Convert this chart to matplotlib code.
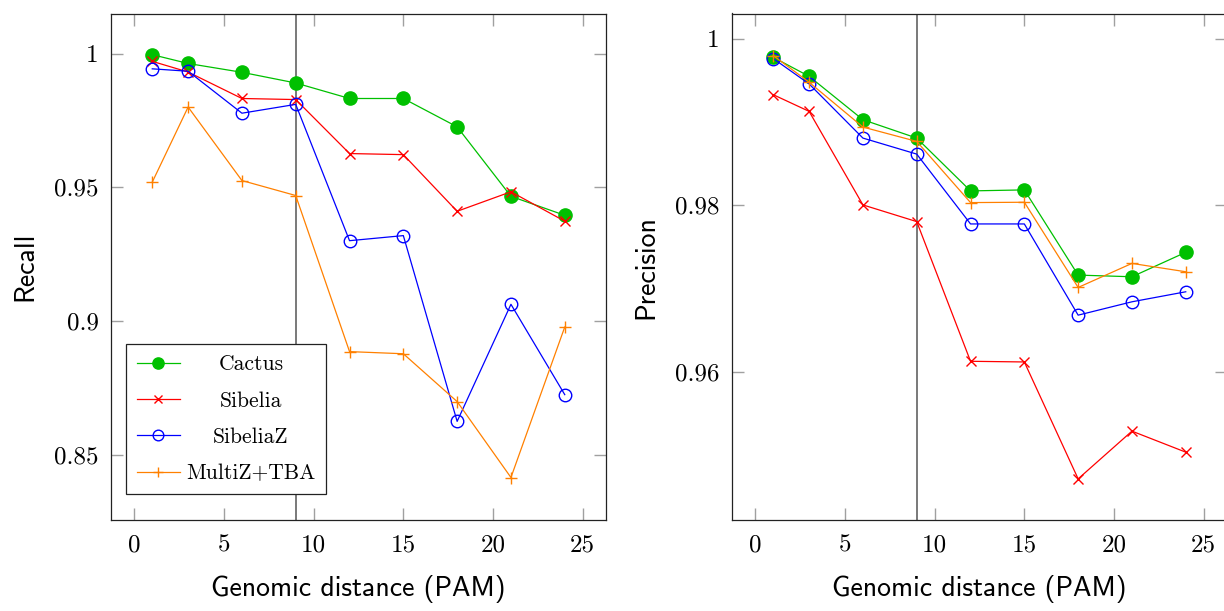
import matplotlib
matplotlib.use("Agg")
import matplotlib.pyplot as plt

# ---- data ----
pam = [1, 3, 6, 9, 12, 15, 18, 21, 24]
methods = ["Cactus", "Sibelia", "SibeliaZ", "MultiZ+TBA"]

recall_cactus = [0.9996, 0.9963, 0.9930, 0.9890, 0.9832, 0.9832, 0.9726, 0.9466, 0.9395]
recall_sibelia = [0.9971, 0.9931, 0.9832, 0.9828, 0.9626, 0.9622, 0.9410, 0.9483, 0.9373]
recall_sibeliaz = [0.9943, 0.9934, 0.9777, 0.9810, 0.9300, 0.9319, 0.8624, 0.9062, 0.8724]
recall_multiz = [0.9519, 0.9800, 0.9525, 0.9469, 0.8885, 0.8877, 0.8698, 0.8414, 0.8977]

precision_cactus = [0.99775, 0.99547, 0.99027, 0.98807, 0.98174, 0.98186, 0.97165, 0.97145, 0.97438]
precision_sibelia = [0.99327, 0.99127, 0.98006, 0.97806, 0.96132, 0.96124, 0.94723, 0.95295, 0.95043]
precision_sibeliaz = [0.99760, 0.99456, 0.98807, 0.98615, 0.97778, 0.97778, 0.96685, 0.96845, 0.96965]
precision_multiz = [0.99796, 0.99476, 0.98939, 0.98767, 0.98034, 0.98038, 0.97017, 0.97305, 0.97205]

threshold_pam = 9

x_ticks = [0, 5, 10, 15, 20, 25]
x_tick_labels = ["0", "5", "10", "15", "20", "25"]
recall_ticks = [0.85, 0.9, 0.95, 1.0]
recall_tick_labels = ["0.85", "0.9", "0.95", "1"]
precision_ticks = [0.96, 0.98, 1.0]
precision_tick_labels = ["0.96", "0.98", "1"]

x_label = "Genomic distance (PAM)"
recall_label = "Recall"
precision_label = "Precision"

# ---- styles ----
styles = [
    dict(color="#00c000", marker="o", markersize=9.5, markerfacecolor="#00c000", markeredgecolor="#00c000"),
    dict(color="#ff0000", marker="x", markersize=6.5, markeredgewidth=1.0),
    dict(color="#0000ff", marker="o", markersize=9, markerfacecolor="none", markeredgewidth=1.0),
    dict(color="#ff8000", marker="+", markersize=9, markeredgewidth=1.0),
]

serif = "cmr10"
sans = "cmss10"
legend_fs = 15.5

W, H = 1224, 611
fig = plt.figure(figsize=(W / 100, H / 100), dpi=100)
ax1 = fig.add_axes([111 / W, 1 - 520 / H, 495 / W, (520 - 13.5) / H])
ax2 = fig.add_axes([732 / W, 1 - 520 / H, 495 / W, (520 - 13.5) / H])


def style_axes(ax, yticks, ylabels, ylim, ylabel):
    ax.set_xlim(-1.3, 26.3)
    ax.set_ylim(*ylim)
    ax.set_xticks(x_ticks)
    ax.set_xticklabels(x_tick_labels, fontfamily=serif, fontsize=18)
    ax.set_yticks(yticks)
    ax.set_yticklabels(ylabels, fontfamily=serif, fontsize=18)
    ax.tick_params(direction="in", length=8.5, width=1.0, color="#a0a0a0",
                   top=True, right=True, pad=9)
    ax.tick_params(axis="x", pad=10)
    for s in ax.spines.values():
        s.set_linewidth(0.9)
        s.set_color("#222222")
    ax.set_xlabel(x_label, fontfamily=sans, fontsize=20, labelpad=14)
    ax.set_ylabel(ylabel, fontfamily=sans, fontsize=20, labelpad=12)
    ax.axvline(threshold_pam, color="#555555", linewidth=1.1, zorder=1)


style_axes(ax1, recall_ticks, recall_tick_labels, (0.8255, 1.015), recall_label)
style_axes(ax2, precision_ticks, precision_tick_labels, (0.9423, 1.003), precision_label)

recall_series = [recall_cactus, recall_sibelia, recall_sibeliaz, recall_multiz]
precision_series = [precision_cactus, precision_sibelia, precision_sibeliaz, precision_multiz]

for name, ys, st in zip(methods, recall_series, styles):
    ax1.plot(pam, ys, linewidth=0.9, label=name, zorder=3, **st)
for name, ys, st in zip(methods, precision_series, styles):
    ax2.plot(pam, ys, linewidth=0.9, label=name, zorder=3, **st)

leg = ax1.legend(loc="lower left", bbox_to_anchor=(15 / 495, 26 / 506.5),
                 borderaxespad=0, frameon=True, fancybox=False,
                 prop={"family": serif, "size": legend_fs}, handlelength=2.0,
                 labelspacing=0.78, borderpad=0.5, handletextpad=0.3,
                 markerscale=0.85)
leg.get_frame().set_edgecolor("#222222")
leg.get_frame().set_linewidth(0.9)
leg.get_frame().set_alpha(1)

# centre the legend labels within their column (pgfplots style)
fig.canvas.draw()
renderer = fig.canvas.get_renderer()
texts = leg.get_texts()
exts = [t.get_window_extent(renderer) for t in texts]
col_x0 = min(e.x0 for e in exts)
col_w = max(e.width for e in exts)
for t, e in zip(texts, exts):
    fig.text((col_x0 + col_w / 2) / W, e.y0 / H, t.get_text(),
             ha="center", va="bottom", fontfamily=serif, fontsize=legend_fs,
             zorder=10)
    t.set_alpha(0)

fig.savefig("out.png", dpi=100)
